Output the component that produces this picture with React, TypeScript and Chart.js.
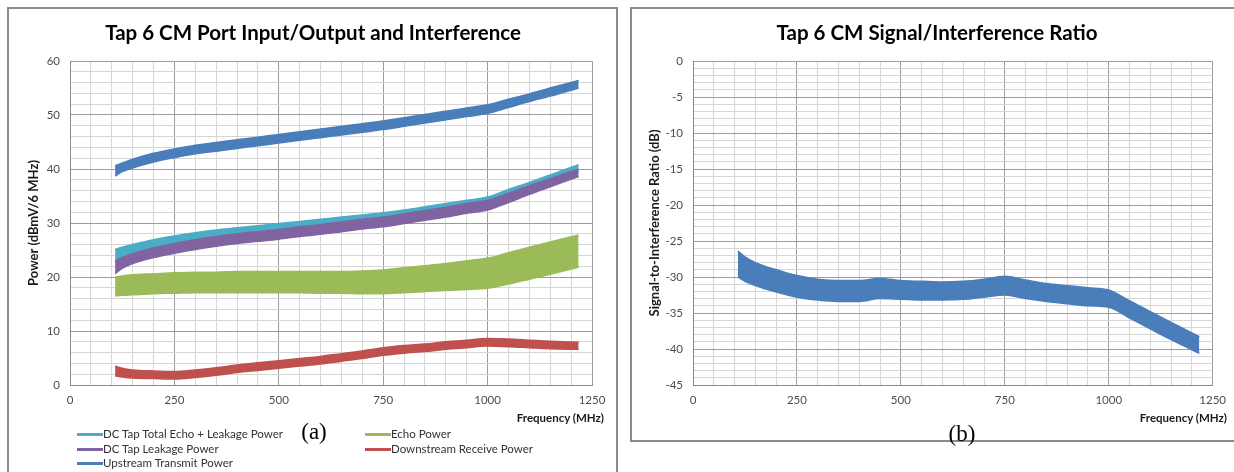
import React, { useEffect, useRef } from "react";
import { Chart, registerables } from "chart.js";

Chart.register(...registerables);

// ---------- data ----------
const FREQ = [108, 125, 150, 200, 250, 300, 350, 400, 450, 500, 550, 600, 650, 700, 750, 800, 850, 900, 950, 1000, 1050, 1100, 1150, 1218];

const X_LABELS = [0, 250, 500, 750, 1000, 1250];
const POWER_LABELS = [0, 10, 20, 30, 40, 50, 60];
const SIR_LABELS = [0, -5, -10, -15, -20, -25, -30, -35, -40, -45];

const SERIES_NAMES = [
  "DC Tap Total Echo + Leakage Power",
  "Echo Power",
  "DC Tap Leakage Power",
  "Downstream Receive Power",
  "Upstream Transmit Power",
];
const SERIES_COLORS = ["#4BACC6", "#9BBB59", "#8064A2", "#C0504D", "#4A7EBB"];

// band envelopes (upper / lower)
const TOTAL_HI = [25.1, 25.5, 26.0, 26.9, 27.6, 28.2, 28.7, 29.1, 29.5, 29.9, 30.3, 30.7, 31.1, 31.5, 31.9, 32.4, 33.0, 33.6, 34.2, 34.8, 36.2, 37.5, 38.9, 40.8];
const TOTAL_LO = [22.8, 23.6, 24.4, 25.3, 26.0, 26.6, 27.1, 27.5, 27.9, 28.3, 28.7, 29.1, 29.5, 29.9, 30.3, 30.8, 31.4, 32.0, 32.6, 33.2, 34.6, 36.0, 37.5, 39.4];

const ECHO_HI = [20.0, 20.2, 20.4, 20.6, 20.8, 20.9, 20.9, 21.0, 21.0, 21.0, 21.0, 21.0, 21.0, 21.1, 21.3, 21.7, 22.1, 22.5, 23.0, 23.5, 24.5, 25.5, 26.5, 27.8];
const ECHO_LO = [16.5, 16.6, 16.7, 16.9, 17.0, 17.1, 17.1, 17.1, 17.1, 17.1, 17.1, 17.0, 17.0, 16.9, 16.9, 17.1, 17.3, 17.5, 17.7, 17.9, 18.7, 19.6, 20.5, 21.8];

const LEAK_HI = [23.0, 23.6, 24.3, 25.4, 26.2, 26.9, 27.5, 28.0, 28.4, 28.8, 29.3, 29.7, 30.2, 30.7, 31.1, 31.7, 32.3, 32.9, 33.6, 34.2, 35.5, 36.9, 38.2, 40.0];
const LEAK_LO = [20.6, 21.6, 22.5, 23.6, 24.4, 25.1, 25.7, 26.2, 26.6, 27.0, 27.5, 27.9, 28.4, 28.9, 29.3, 29.9, 30.5, 31.1, 31.8, 32.4, 33.8, 35.3, 36.7, 38.6];

const DOWN_HI = [3.5, 3.1, 2.8, 2.6, 2.5, 2.8, 3.2, 3.7, 4.1, 4.5, 4.9, 5.3, 5.8, 6.3, 6.9, 7.3, 7.6, 8.0, 8.3, 8.6, 8.5, 8.3, 8.1, 7.9];
const DOWN_LO = [1.7, 1.5, 1.3, 1.2, 1.1, 1.4, 1.8, 2.3, 2.7, 3.1, 3.5, 3.9, 4.4, 4.9, 5.5, 5.9, 6.2, 6.6, 6.9, 7.2, 7.1, 6.9, 6.7, 6.6];

const UP_HI = [40.6, 41.1, 41.8, 42.9, 43.7, 44.4, 44.9, 45.4, 45.9, 46.4, 46.9, 47.4, 47.9, 48.4, 48.9, 49.5, 50.1, 50.7, 51.3, 51.9, 52.9, 53.9, 55.0, 56.4];
const UP_LO = [38.7, 39.5, 40.2, 41.3, 42.1, 42.8, 43.3, 43.8, 44.3, 44.8, 45.3, 45.8, 46.3, 46.8, 47.3, 47.9, 48.5, 49.1, 49.7, 50.3, 51.4, 52.5, 53.5, 55.0];

const SIR_HI = [-26.4, -27.2, -28.0, -29.0, -29.8, -30.3, -30.5, -30.5, -30.2, -30.5, -30.6, -30.7, -30.6, -30.3, -29.9, -30.4, -30.9, -31.2, -31.5, -31.8, -33.3, -34.8, -36.3, -38.3];
const SIR_LO = [-30.0, -30.6, -31.2, -32.1, -32.8, -33.2, -33.4, -33.4, -33.0, -33.1, -33.2, -33.2, -33.1, -32.8, -32.5, -33.0, -33.4, -33.7, -34.0, -34.2, -35.7, -37.2, -38.7, -40.6];

// ---------- helpers ----------
const FONT = "Lato, 'Open Sans', sans-serif";
const MAJOR_GRID = "#9c9c9c";
const MINOR_GRID = "#d6d6d6";
const AXIS_LINE = "#8a8a8a";
const TICK_COLOR = "#4d4d4d";

function band(hi: number[], lo: number[], color: string, label: string) {
  const common = {
    borderColor: color,
    backgroundColor: color,
    borderWidth: 1.5,
    pointRadius: 0,
    cubicInterpolationMode: "monotone" as const,
  };
  return [
    { ...common, label, data: FREQ.map((f, i) => ({ x: f, y: hi[i] })), fill: "+1" },
    { ...common, label: label + " lower", data: FREQ.map((f, i) => ({ x: f, y: lo[i] })), fill: false },
  ];
}

function makeOptions(opts: {
  yMin: number; yMax: number; yStep: number; yLabels: number[]; yTitle: string;
  padLeft: number; padRight: number; yWidth: number;
}): any {
  return {
    responsive: false,
    maintainAspectRatio: false,
    animation: false,
    events: [],
    layout: { padding: { left: opts.padLeft, right: opts.padRight, top: 61, bottom: 57 } },
    plugins: {
      legend: { display: false },
      title: { display: false },
      tooltip: { enabled: false },
    },
    scales: {
      x: {
        type: "linear",
        min: 0,
        max: 1250,
        afterFit: (s: any) => { s.height = 30; },
        ticks: {
          stepSize: 50,
          maxTicksLimit: 1000,
          autoSkip: false,
          maxRotation: 0,
          padding: 8,
          color: TICK_COLOR,
          font: { family: FONT, size: 11.5 },
          callback: (v: any) => (X_LABELS.includes(Number(v)) ? String(v) : ""),
        },
        grid: {
          drawTicks: false,
          color: (ctx: any) => (X_LABELS.includes(ctx.tick?.value) ? MAJOR_GRID : MINOR_GRID),
          lineWidth: 1,
        },
        border: { display: true, color: AXIS_LINE, width: 1 },
      },
      y: {
        type: "linear",
        min: opts.yMin,
        max: opts.yMax,
        afterFit: (s: any) => { s.width = opts.yWidth; },
        ticks: {
          stepSize: opts.yStep,
          maxTicksLimit: 1000,
          autoSkip: false,
          padding: 10,
          color: TICK_COLOR,
          font: { family: FONT, size: 11.5 },
          callback: (v: any) => (opts.yLabels.includes(Number(v)) ? String(v) : ""),
        },
        grid: {
          drawTicks: false,
          color: (ctx: any) => (opts.yLabels.includes(ctx.tick?.value) ? MAJOR_GRID : MINOR_GRID),
          lineWidth: 1,
        },
        border: { display: true, color: AXIS_LINE, width: 1 },
        title: {
          display: true,
          text: opts.yTitle,
          color: "#1a1a1a",
          font: { family: FONT, size: 13, weight: "bold" },
          padding: { top: 0, bottom: 0 },
        },
      },
    },
  };
}

const LEGEND_POS = [
  { x: 77, y: 434 },
  { x: 365, y: 434 },
  { x: 77, y: 449 },
  { x: 365, y: 449 },
  { x: 77, y: 463 },
];

export default function App() {
  const leftRef = useRef<HTMLCanvasElement | null>(null);
  const rightRef = useRef<HTMLCanvasElement | null>(null);

  useEffect(() => {
    document.body.style.margin = "0";
    const left = new Chart(leftRef.current as HTMLCanvasElement, {
      type: "line",
      data: {
        datasets: [
          ...band(UP_HI, UP_LO, SERIES_COLORS[4], SERIES_NAMES[4]),
          ...band(LEAK_HI, LEAK_LO, SERIES_COLORS[2], SERIES_NAMES[2]),
          ...band(TOTAL_HI, TOTAL_LO, SERIES_COLORS[0], SERIES_NAMES[0]),
          ...band(ECHO_HI, ECHO_LO, SERIES_COLORS[1], SERIES_NAMES[1]),
          ...band(DOWN_HI, DOWN_LO, SERIES_COLORS[3], SERIES_NAMES[3]),
        ] as any,
      },
      options: makeOptions({
        yMin: 0, yMax: 60, yStep: 2, yLabels: POWER_LABELS, yTitle: "Power (dBmV/6 MHz)",
        padLeft: 26, padRight: 28, yWidth: 44,
      }),
    });
    const right = new Chart(rightRef.current as HTMLCanvasElement, {
      type: "line",
      data: {
        datasets: [...band(SIR_HI, SIR_LO, "#4A7EBB", "Signal-to-Interference Ratio")] as any,
      },
      options: makeOptions({
        yMin: -45, yMax: 0, yStep: 1, yLabels: SIR_LABELS, yTitle: "Signal-to-Interference Ratio (dB)",
        padLeft: 27, padRight: 19, yWidth: 46,
      }),
    });
    return () => {
      left.destroy();
      right.destroy();
    };
  }, []);

  const textBase: React.CSSProperties = { position: "absolute", fontFamily: FONT, whiteSpace: "nowrap" };

  return (
    <div style={{ position: "relative", width: 1234, height: 472, overflow: "hidden", background: "#fff" }}>
      {/* frames */}
      <div style={{ position: "absolute", left: 7, top: 7, width: 607, height: 480, border: "2px solid #8c8c8c" }} />
      <div style={{ position: "absolute", left: 630, top: 7, width: 620, height: 431, border: "2px solid #8c8c8c" }} />

      <canvas ref={leftRef} width={620} height={472} style={{ position: "absolute", left: 0, top: 0, width: 620, height: 472 }} />
      <canvas ref={rightRef} width={614} height={472} style={{ position: "absolute", left: 620, top: 0, width: 614, height: 472 }} />

      {/* titles */}
      <div style={{ ...textBase, left: 63, width: 500, top: 19, lineHeight: "26px", textAlign: "center", fontSize: 20.5, fontWeight: 700, color: "#000" }}>
        Tap 6 CM Port Input/Output and Interference
      </div>
      <div style={{ ...textBase, left: 687, width: 500, top: 19, lineHeight: "26px", textAlign: "center", fontSize: 20.5, fontWeight: 700, color: "#000" }}>
        Tap 6 CM Signal/Interference Ratio
      </div>

      {/* x axis titles */}
      <div style={{ ...textBase, left: 404, width: 200, top: 411, lineHeight: "14px", textAlign: "right", fontSize: 11.5, fontWeight: 700, color: "#1a1a1a" }}>
        Frequency (MHz)
      </div>
      <div style={{ ...textBase, left: 1027, width: 200, top: 411, lineHeight: "14px", textAlign: "right", fontSize: 11.5, fontWeight: 700, color: "#1a1a1a" }}>
        Frequency (MHz)
      </div>

      {/* panel labels */}
      <div style={{ ...textBase, left: 264, width: 100, top: 419, lineHeight: "26px", textAlign: "center", fontSize: 23, fontFamily: "'Liberation Serif', 'Times New Roman', serif", color: "#000" }}>
        (a)
      </div>
      <div style={{ ...textBase, left: 912, width: 100, top: 421, lineHeight: "26px", textAlign: "center", fontSize: 23, fontFamily: "'Liberation Serif', 'Times New Roman', serif", color: "#000" }}>
        (b)
      </div>

      {/* legend */}
      {SERIES_NAMES.map((name, i) => (
        <div key={name} style={{ position: "absolute", left: LEGEND_POS[i].x, top: LEGEND_POS[i].y - 7, height: 14, display: "flex", alignItems: "center" }}>
          <div style={{ width: 26, height: 3, background: SERIES_COLORS[i] }} />
          <span style={{ fontFamily: FONT, fontSize: 11.5, color: "#333", lineHeight: "14px", whiteSpace: "nowrap" }}>{name}</span>
        </div>
      ))}
    </div>
  );
}
